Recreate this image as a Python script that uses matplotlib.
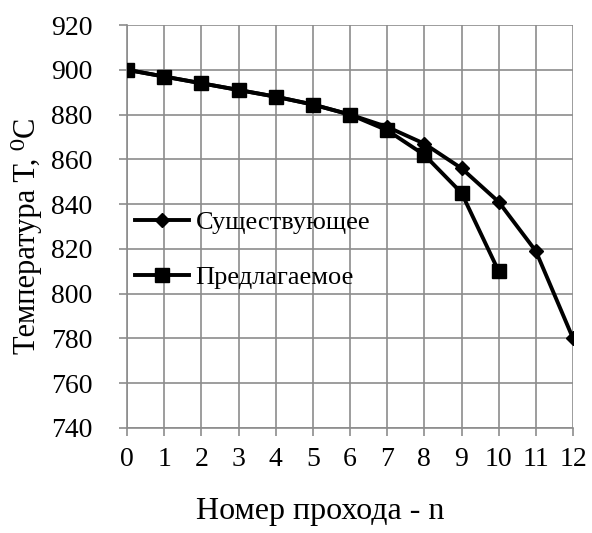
import matplotlib
matplotlib.use("Agg")
import matplotlib.pyplot as plt

# проходы и температура, читанные с графика
passes_existing = [0, 1, 2, 3, 4, 5, 6, 7, 8, 9, 10, 11, 12]
temp_existing = [900, 897, 894, 891, 888, 884.5, 880, 874.5, 867, 856, 841, 819, 780]

passes_proposed = [0, 1, 2, 3, 4, 5, 6, 7, 8, 9, 10]
temp_proposed = [900, 897, 894, 891, 888, 884.5, 880, 873, 862, 845, 810]

x_ticks = list(range(0, 13))
y_ticks = list(range(740, 921, 20))

plt.rcParams["font.family"] = ["Liberation Serif", "DejaVu Serif"]

grid_color = "#8c8c8c"

fig = plt.figure(figsize=(5.92, 5.33), dpi=100)
ax = fig.add_axes([0.2145, 0.197, 0.7535, 0.756])

ax.plot(passes_existing, temp_existing, color="black", lw=2.8,
        marker="D", markersize=7.5, label="Существующее", zorder=3)
ax.plot(passes_proposed, temp_proposed, color="black", lw=2.8,
        marker="s", markersize=10, label="Предлагаемое", zorder=3)

ax.set_xlim(0, 12)
ax.set_ylim(740, 920)
ax.set_xticks(x_ticks)
ax.set_yticks(y_ticks)
ax.grid(True, color=grid_color, lw=1.2)
ax.set_axisbelow(True)

for side in ["top", "right"]:
    ax.spines[side].set_visible(False)
for side in ["left", "bottom"]:
    ax.spines[side].set_color(grid_color)
    ax.spines[side].set_linewidth(1.2)
ax.tick_params(colors=grid_color, labelcolor="black", length=6, width=1.2,
               labelsize=20)
ax.tick_params(axis="x", pad=8)
ax.tick_params(axis="y", pad=19)

ax.set_xlabel("Номер прохода - n", fontsize=23)
ax.xaxis.set_label_coords(0.433, -0.172)
ax.set_ylabel("Температура T, \u2070C", fontsize=22)
ax.yaxis.set_label_coords(-0.19, 0.476)

ax.legend(loc="center left", bbox_to_anchor=(0.0, 0.442), frameon=False,
          borderpad=0, borderaxespad=0.3, handlelength=2.05, handletextpad=0.25,
          labelspacing=1.2, fontsize=19)

fig.savefig("out.png", dpi=100)
